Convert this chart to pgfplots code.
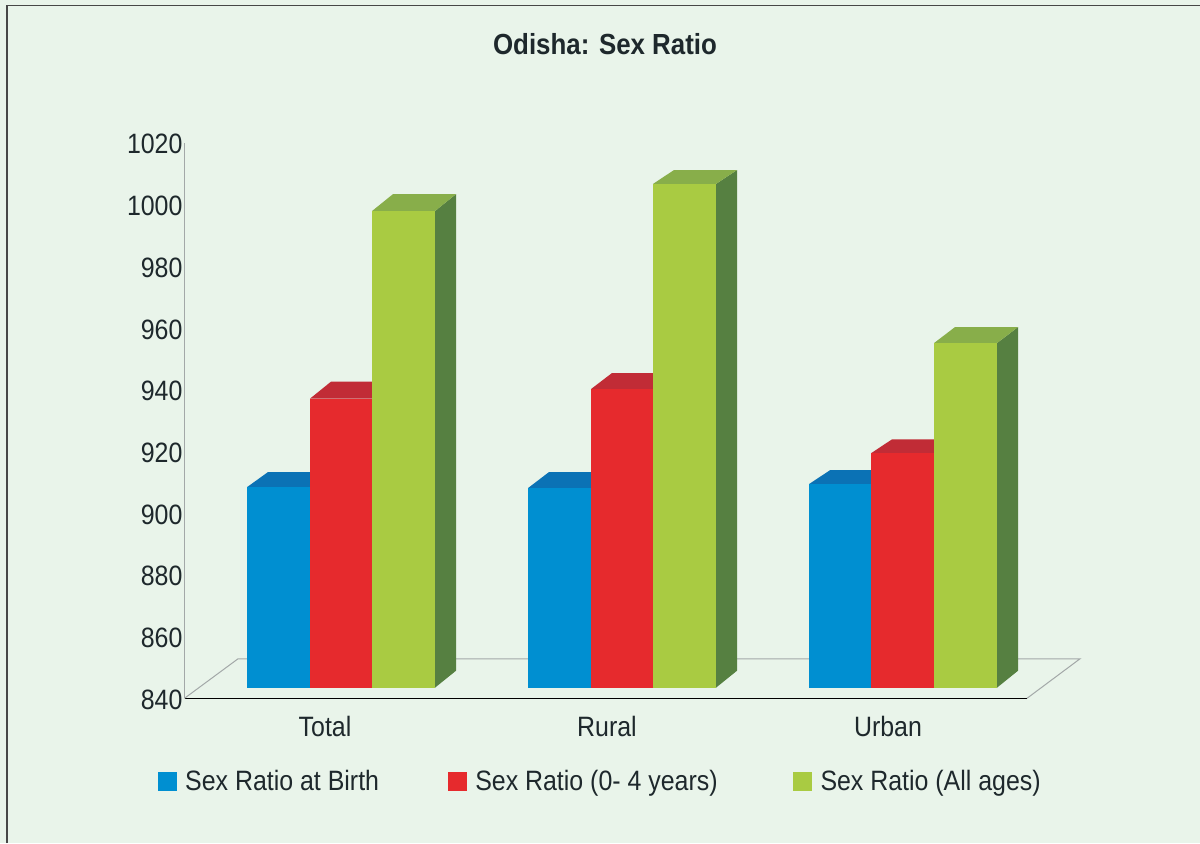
\documentclass[border=0pt]{standalone}
\usepackage{pgfplots}
\pgfplotsset{compat=1.18}
\usepackage{fontspec}
\setmainfont[FakeStretch=0.89]{Liberation Sans}
\definecolor{bg}{HTML}{E9F4EA}
\definecolor{txt}{HTML}{1E282C}
\definecolor{ax}{HTML}{A3A8A8}
\definecolor{cb}{HTML}{008FD1}
\definecolor{cbt}{HTML}{0B72B5}
\definecolor{cr}{HTML}{E62A2D}
\definecolor{crt}{HTML}{C12C36}
\definecolor{cg}{HTML}{A9CB42}
\definecolor{cgt}{HTML}{88AE4A}
\definecolor{cgs}{HTML}{568041}
% x0, x1, value, top depth in value units, front, top, side
\newcommand{\threedbar}[7]{%
  \pgfmathsetmacro{\xa}{#1+21}\pgfmathsetmacro{\xb}{#2+21}%
  \pgfmathsetmacro{\vt}{#3+#4}\pgfmathsetmacro{\vb}{845.5}%
  \addplot[draw=none,fill=#7] coordinates {(#2,840) (#2,#3) (\xb,\vt) (\xb,\vb)} --cycle;
  \addplot[draw=none,fill=#6] coordinates {(#1,#3) (#2,#3) (\xb,\vt) (\xa,\vt)} --cycle;
  \addplot[draw=none,fill=#5] coordinates {(#1,840) (#1,#3) (#2,#3) (#2,840)} --cycle;
}
\pgfplotsset{base/.style={
  scale only axis, width=631.875pt, height=416.475pt,
  xmin=184.5, xmax=1027, ymin=840, ymax=1020, clip=false}}
\begin{document}
\begin{tikzpicture}[x=0.75pt,y=0.75pt]
\path[use as bounding box] (0,0) rectangle (1200,843);
\fill[bg] (0,0) rectangle (1200,843);
\draw[color=black!72,line width=1.1pt] (7,0) -- (7,837.5) -- (1200,837.5);
\node[font=\bfseries\fontsize{21.8}{25}\selectfont,text=txt] at (605,799) {Odisha: Sex Ratio};
\begin{axis}[base,
  at={(138.375pt,108.525pt)},anchor=south west,
  axis lines=left,
  x axis line style={-,color=black,line width=0.75pt},
  y axis line style={-,color=ax,line width=0.75pt},
  major tick length=0pt,
  ytick={840,860,...,1020},
  xtick={325,607,888},
  xticklabels={Total,Rural,Urban},
  tick label style={font=\fontsize{21}{24}\selectfont,text=txt},
  /pgf/number format/assume math mode=true,
  /pgf/number format/1000 sep={},
  yticklabel style={xshift=2pt,yshift=-1pt},
  xticklabel style={yshift=-10pt},
  legend style={at={(-0.0315,-0.149)},anchor=west,draw=none,fill=none,inner sep=0pt,outer sep=0pt,
    legend columns=3,font=\fontsize{21}{24}\selectfont,text=txt,
    /tikz/column 2/.style={column sep=49.75pt},
    /tikz/column 4/.style={column sep=54.75pt},
    row sep=0pt},
  legend cell align=left,
]
\addplot[color=ax,line width=0.75pt] coordinates {(184.5,840) (238,852.8) (1080,852.8) (1027,840)};
\addlegendimage{legend image code/.code={\fill[cb] (0pt,-6.75pt) rectangle (13.5pt,6.75pt);\path (18pt,0pt);}}
\addlegendimage{legend image code/.code={\fill[cr] (0pt,-6.75pt) rectangle (13.5pt,6.75pt);\path (18pt,0pt);}}
\addlegendimage{legend image code/.code={\fill[cg] (0pt,-6.75pt) rectangle (13.5pt,6.75pt);\path (18pt,0pt);}}
\legend{,Sex Ratio at Birth,Sex Ratio (0- 4 years),Sex Ratio (All ages)}
\end{axis}
\begin{axis}[base,hide axis,
  at={(138.375pt,116.475pt)},anchor=south west]
% Total
\threedbar{247}{310}{905}{4.9}{cb}{cbt}{cb}
\threedbar{310}{372}{933.7}{5.5}{cr}{crt}{cr}
\threedbar{372}{435}{994.5}{5.5}{cg}{cgt}{cgs}
% Rural
\threedbar{528}{591}{904.7}{5.2}{cb}{cbt}{cb}
\threedbar{591}{653}{936.8}{5.2}{cr}{crt}{cr}
\threedbar{653}{716}{1003.3}{4.5}{cg}{cgt}{cgs}
% Urban
\threedbar{809}{871}{906}{4.5}{cb}{cbt}{cb}
\threedbar{871}{934}{916}{4.5}{cr}{crt}{cr}
\threedbar{934}{997}{951.7}{5.2}{cg}{cgt}{cgs}
\end{axis}
\end{tikzpicture}
\end{document}
